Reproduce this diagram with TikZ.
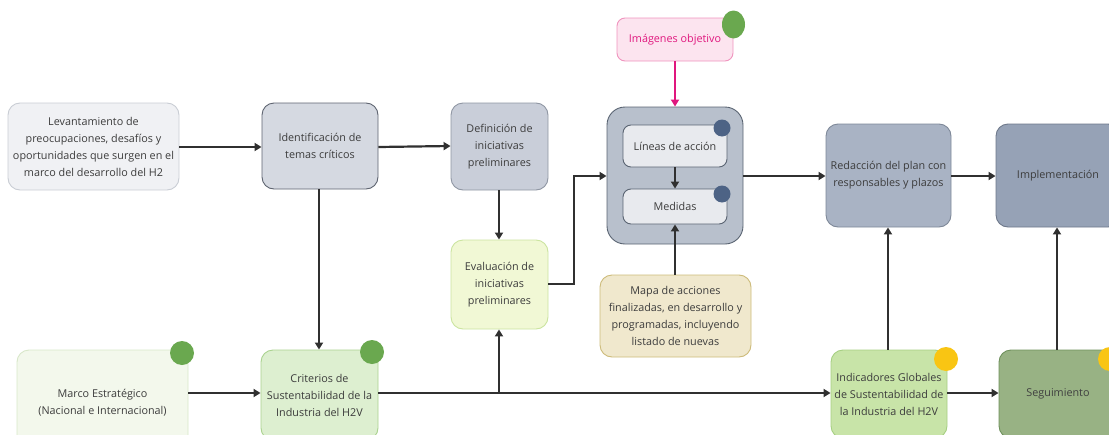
\documentclass[tikz,border=0pt]{standalone}
\usepackage{fontspec}
\setmainfont{Open Sans}
\usetikzlibrary{arrows.meta,shapes.geometric}
\definecolor{txt}{HTML}{3C3C3C}
\definecolor{lnk}{HTML}{303030}
\definecolor{cLev}{HTML}{F0F1F4}\definecolor{bLev}{HTML}{C9CDD4}
\definecolor{cIde}{HTML}{D5D9E1}\definecolor{bIde}{HTML}{5E6470}
\definecolor{cDef}{HTML}{C9CED9}\definecolor{bDef}{HTML}{8F96A3}
\definecolor{cCon}{HTML}{B8C0CC}\definecolor{bCon}{HTML}{5A6472}
\definecolor{cIn}{HTML}{E8EAEE}\definecolor{bIn}{HTML}{5A6472}
\definecolor{cRed}{HTML}{A9B3C4}\definecolor{bRed}{HTML}{7E8898}
\definecolor{cImp}{HTML}{96A2B6}\definecolor{bImp}{HTML}{6E788A}
\definecolor{cImg}{HTML}{FCE4EF}\definecolor{bImg}{HTML}{F094BE}\definecolor{tImg}{HTML}{E0177E}
\definecolor{cEva}{HTML}{F1F8D5}\definecolor{bEva}{HTML}{CBE4A0}
\definecolor{cMap}{HTML}{F0E8CD}\definecolor{bMap}{HTML}{CDBB7A}
\definecolor{cMar}{HTML}{F3F8EC}\definecolor{bMar}{HTML}{D8E7C9}
\definecolor{cCri}{HTML}{DDEFD0}\definecolor{bCri}{HTML}{AAD28F}
\definecolor{cInd}{HTML}{C8E4A8}\definecolor{bInd}{HTML}{A6CF82}
\definecolor{cSeg}{HTML}{98B284}\definecolor{bSeg}{HTML}{6E905C}
\definecolor{dGreen}{HTML}{6AA84F}
\definecolor{dBlue}{HTML}{4D6385}
\definecolor{dYel}{HTML}{F9C513}
\tikzset{
  box/.style={rounded corners=12pt, draw, line width=0.9pt, align=center, text=txt,
    font=\fontsize{10.8}{17}\selectfont, inner sep=2pt},
  sbox/.style={box, rounded corners=8pt},
  dot/.style={circle, inner sep=0pt, minimum size=24pt},
  conn/.style={draw=lnk, line width=2.2pt, -{Triangle[width=8pt,length=7pt]}},
}
\begin{document}
\begin{tikzpicture}[x=1pt,y=-1pt]
\useasboundingbox (0,0) rectangle (1109,434);
\clip (0,0) rectangle (1109,434);
% top row
\node[box, fill=cLev, draw=bLev, minimum width=171pt, minimum height=87pt] (lev) at (93.5,146.5)
  {Levantamiento de\\preocupaciones, desafíos y\\oportunidades que surgen en el\\marco del desarrollo del H2};
\node[box, fill=cIde, draw=bIde, minimum width=116pt, minimum height=86pt] (ide) at (320,146)
  {Identificación de\\temas críticos};
\node[box, fill=cDef, draw=bDef, minimum width=97pt, minimum height=87pt] (def) at (499.5,146.5)
  {Definición de\\iniciativas\\preliminares};
\node[box, rounded corners=18pt, fill=cCon, draw=bCon, minimum width=136pt, minimum height=137pt] (con) at (675,175.5) {};
\node[sbox, fill=cIn, draw=bIn, minimum width=104pt, minimum height=42pt] (lin) at (675,146) {Líneas de acción};
\node[sbox, fill=cIn, draw=bIn, minimum width=104pt, minimum height=35pt] (med) at (675,206.5) {Medidas};
\node[dot, fill=dBlue, minimum size=17pt] (d1) at (722,128) {};
\node[dot, fill=dBlue, minimum size=17pt] (d2) at (722,194) {};
\node[sbox, fill=cImg, draw=bImg, text=tImg, minimum width=116pt, minimum height=43pt] (img) at (675,39.5) {Imágenes objetivo};
\node[ellipse, inner sep=0pt, fill=dGreen, minimum width=23pt, minimum height=28pt] (d3) at (733.5,24.5) {};
\node[box, fill=cRed, draw=bRed, minimum width=125pt, minimum height=103pt] (red) at (888.5,175.5)
  {Redacción del plan con\\responsables y plazos};
\node[box, fill=cImp, draw=bImp, minimum width=124pt, minimum height=103pt] (imp) at (1058,175.5)
  {Implementación};
% middle
\node[box, fill=cEva, draw=bEva, minimum width=97pt, minimum height=89pt] (eva) at (499.5,284.5)
  {Evaluación de\\iniciativas\\preliminares};
\node[box, fill=cMap, draw=bMap, minimum width=151pt, minimum height=82pt] (map) at (675.5,316)
  {Mapa de acciones\\finalizadas, en desarrollo y\\programadas, incluyendo\\listado de nuevas};
% bottom row
\node[box, fill=cMar, draw=bMar, minimum width=171pt, minimum height=106pt] (mar) at (102.5,403)
  {Marco Estratégico\\(Nacional e Internacional)};
\node[dot, fill=dGreen] (d4) at (182,353) {};
\node[box, fill=cCri, draw=bCri, minimum width=117pt, minimum height=90pt] (cri) at (319.5,395)
  {Criterios de\\Sustentabilidad de la\\Industria del H2V};
\node[dot, fill=dGreen] (d5) at (372,352) {};
\node[box, fill=cInd, draw=bInd, minimum width=116pt, minimum height=88pt] (ind) at (889,394)
  {Indicadores Globales\\de Sustentabilidad de\\la Industria del H2V};
\node[dot, fill=dYel] (d6) at (946,359) {};
\node[box, fill=cSeg, draw=bSeg, text=black!75, minimum width=118pt, minimum height=88pt] (seg) at (1058,394)
  {Seguimiento};
\node[dot, fill=dYel] (d7) at (1110,359) {};
% connectors
\coordinate (j1) at (499,393);
\coordinate (k1) at (574,284);
\coordinate (k2) at (574,176);
\draw[conn] (lev.east |- 0,147) -- (ide.west |- 0,147);
\draw[conn] (ide.east |- 0,147) -- (def.west |- 0,146);
\draw[conn] (ide.south -| 319,0) -- (cri.north -| 319,0);
\draw[conn] (def.south -| 499,0) -- (eva.north -| 499,0);
\draw[conn] (eva.east |- k1) -- (k1) -- (k2) -- (con.west |- k2);
\draw[conn, draw=tImg, fill=tImg] (img.south) -- (con.north);
\draw[conn] (lin.south) -- (med.north);
\draw[conn] (map.north -| 675,0) -- (med.south -| 675,0);
\draw[conn] (con.east |- 0,176) -- (red.west |- 0,176);
\draw[conn] (red.east |- 0,176) -- (imp.west |- 0,176);
\draw[conn] (mar.east |- 0,393) -- (cri.west |- 0,393);
\draw[conn] (cri.east |- 0,393) -- (ind.west |- 0,393);
\draw[conn] (j1) -- (eva.south -| j1);
\draw[conn] (ind.east |- 0,393) -- (seg.west |- 0,393);
\draw[conn] (ind.north -| 888,0) -- (red.south -| 888,0);
\draw[conn] (seg.north -| 1057,0) -- (imp.south -| 1057,0);
\end{tikzpicture}
\end{document}
